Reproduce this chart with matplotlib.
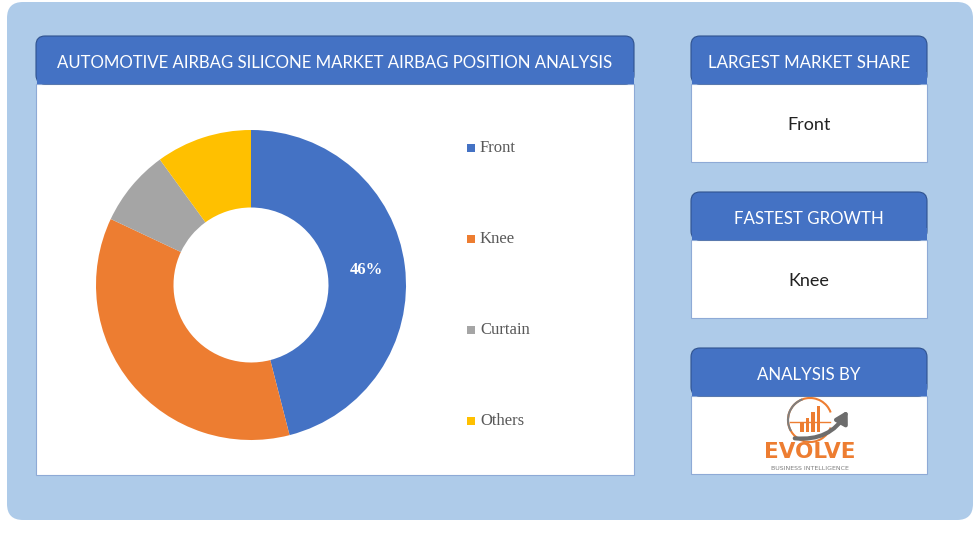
import numpy as np
import matplotlib.pyplot as plt
from matplotlib.patches import FancyBboxPatch, Rectangle, Arc, FancyArrowPatch

# Data
labels = ['Front', 'Knee', 'Curtain', 'Others']
shares = [46, 36, 8, 10]
colors = ['#4472c4', '#ed7d31', '#a5a5a5', '#ffc000']
title = 'AUTOMOTIVE AIRBAG SILICONE MARKET AIRBAG POSITION ANALYSIS'
side_titles = ['LARGEST MARKET SHARE', 'FASTEST GROWTH', 'ANALYSIS BY']
side_values = ['Front', 'Knee', '']

W, H = 975, 549
fig = plt.figure(figsize=(W / 100, H / 100), dpi=100)
fig.patch.set_facecolor('white')

# background axes in pixel coordinates (y down)
bg = fig.add_axes([0, 0, 1, 1])
bg.set_xlim(0, W)
bg.set_ylim(H, 0)
bg.axis('off')

BLUE = '#4472c4'
HEAD_FONT = 'Lato'

# outer light-blue panel
bg.add_patch(FancyBboxPatch((7, 2), 966, 518, boxstyle='round,pad=0,rounding_size=16',
                            fc='#aecbe9', ec='none'))


def card(x, y, w, hh, bh, text, fs):
    # body
    bg.add_patch(Rectangle((x, y + hh), w, bh, fc='white', ec='#8eaad6', lw=0.8))
    # header with rounded top
    bg.add_patch(FancyBboxPatch((x, y), w, hh, boxstyle='round,pad=0,rounding_size=9',
                                fc=BLUE, ec='#2f528f', lw=0.8))
    bg.add_patch(Rectangle((x + 0.5, y + hh - 12), w - 1, 12, fc=BLUE, ec='none'))
    bg.text(x + w / 2, y + hh / 2 + 2.5, text, color='white', fontsize=fs,
            family=HEAD_FONT, ha='center', va='center')


card(36, 36, 598, 48, 391, title, 12.1)
for i, (t, v) in enumerate(zip(side_titles, side_values)):
    y0 = 36 + i * 156
    card(691, y0, 236, 48, 78, t, 12.2)
    if v:
        bg.text(809, y0 + 48 + 40.5, v, color='#222222', fontsize=13,
                family=HEAD_FONT, ha='center', va='center')

# logo (rough sketch)
cx, cy = 810, 420
bg.add_patch(Arc((cx, cy), 44, 44, theta1=20, theta2=340, color='#ed7d31', lw=1.5))
bg.add_patch(Arc((cx, cy), 44, 44, theta1=150, theta2=250, color='#7f7f7f', lw=1.5))
bg.plot([cx - 20, cx + 20], [cy + 2, cy + 2], color='#ed7d31', lw=1)
for k, hgt in enumerate([9, 14, 20, 26]):
    bg.add_patch(Rectangle((cx - 10 + k * 5.5, cy + 12 - hgt), 3.5, hgt, fc='#ed7d31', ec='none'))
bg.add_patch(FancyArrowPatch((cx - 18, cy + 18), (cx + 39, cy - 12),
                             connectionstyle='arc3,rad=0.35', arrowstyle='-|>,head_length=7,head_width=4',
                             color='#6d6d6d', lw=3))
bg.text(cx, 452, 'EVOLVE', color='#ed7d31', fontsize=15.5, fontweight='bold',
        family='DejaVu Sans', ha='center', va='center')
bg.text(cx, 468, 'BUSINESS INTELLIGENCE', color='#7f7f7f', fontsize=4.5,
        family='DejaVu Sans', ha='center', va='center')

# donut
r_px = 155
pcx, pcy = 251, 285
ax = fig.add_axes([(pcx - r_px) / W, (H - pcy - r_px) / H, 2 * r_px / W, 2 * r_px / H])
wedges, _ = ax.pie(shares, colors=colors, startangle=90, counterclock=False,
                   radius=1, wedgeprops=dict(width=0.5, edgecolor='none'))
ax.set_xlim(-1, 1)
ax.set_ylim(-1, 1)
ax.axis('off')

# percentage label on the front slice
ang = np.deg2rad(90 - shares[0] / 100 * 360 / 2)
ax.text(0.75 * np.cos(ang), 0.75 * np.sin(ang), f'{shares[0]}%', color='white',
        fontsize=12, fontweight='bold', family='Liberation Serif', ha='center', va='center')

# legend
for i, (lab, c) in enumerate(zip(labels, colors)):
    ly = 148 + i * 91
    bg.add_patch(Rectangle((467, ly - 4), 8, 8, fc=c, ec='none'))
    bg.text(480, ly, lab, color='#595959', fontsize=12, family='Liberation Serif',
            ha='left', va='center')

fig.savefig('out.png', dpi=100)
